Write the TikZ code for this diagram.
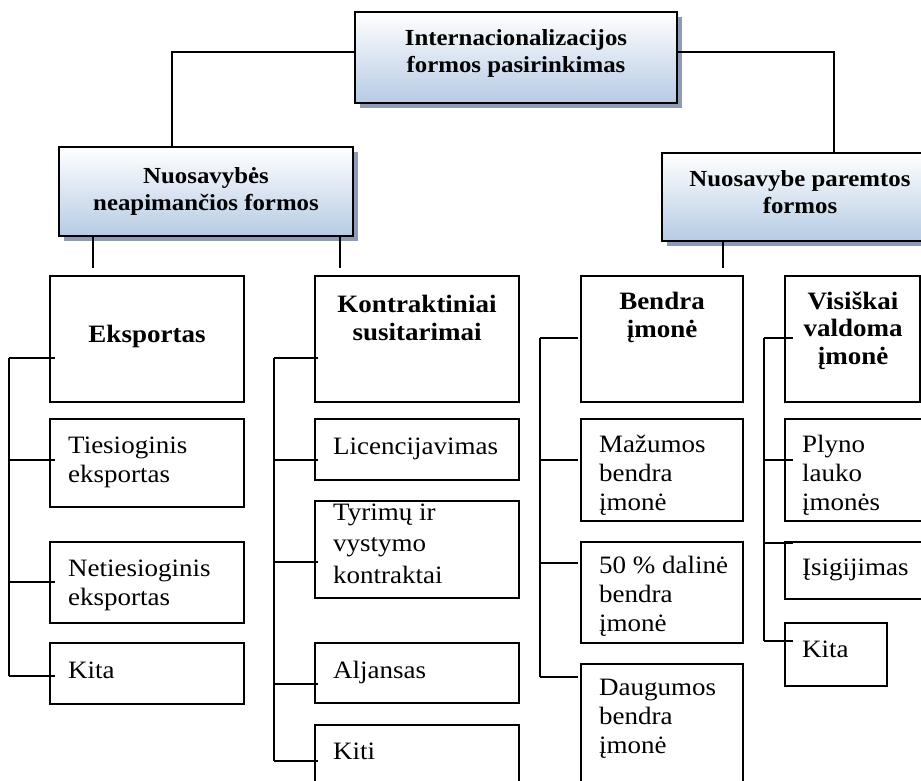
\documentclass[tikz,border=0pt]{standalone}
\usepackage{fontspec}
\setmainfont{Liberation Serif}[FakeStretch=1.08]
\usetikzlibrary{calc,shadows}
\definecolor{headtop}{RGB}{255,255,255}
\definecolor{headbot}{RGB}{182,203,228}
\definecolor{shadowc}{RGB}{140,156,182}
\tikzset{
  box/.style={draw, line width=1.2pt, rectangle, inner sep=0pt, outer sep=0pt, anchor=north west},
  headbox/.style={draw, line width=2pt, rectangle, inner sep=0pt, outer sep=0pt, anchor=north west,
    top color=headtop, bottom color=headbot,
    drop shadow={shadow xshift=5pt, shadow yshift=-5pt, fill=shadowc, opacity=1}},
  % multi-line texts are placed by the baseline of their last line
  headtxt/.style={font=\fontsize{23}{27}\selectfont\bfseries, align=center, anchor=base, inner sep=0pt},
  subhead/.style={font=\fontsize{25}{27.5}\selectfont\bfseries, align=center, anchor=base, inner sep=0pt},
  item/.style={font=\fontsize{25}{29}\selectfont, align=left, anchor=base west, inner sep=0pt},
  link/.style={line width=1.3pt},
}
% rectangle node from its top-left and bottom-right corners
\newcommand{\boxnode}[6]{%
  \node[#1, minimum width={(#5-#3)*1pt}, minimum height={(#6-#4)*1pt}] (#2) at (#3,#4) {};}
\begin{document}
\begin{tikzpicture}[x=1pt, y=-1pt]
\useasboundingbox (0,0) rectangle (921,780);

% header boxes
\boxnode{headbox}{top}{355}{12}{677}{103}
\boxnode{headbox}{lhead}{59}{147}{353}{236}
\boxnode{headbox}{rhead}{662}{153}{938}{241}
\node[headtxt] (toptx) at (516,72) {Internacionalizacijos\\formos pasirinkimas};
\node[headtxt] (lheadtx) at (206,210) {Nuosavybės\\neapimančios formos};
\node[headtxt] (rheadtx) at (800,213) {Nuosavybe paremtos\\formos};

% left group: export
\boxnode{box}{eks}{50}{276}{244}{402}
\boxnode{box}{ties}{50}{419}{244}{507}
\boxnode{box}{neties}{50}{542}{244}{623}
\boxnode{box}{kita}{50}{643}{244}{704}
\node[subhead] (ekstx) at (147,342) {Eksportas};
\node[item] (tiestx) at (68,482) {Tiesioginis\\eksportas};
\node[item] (netiestx) at (68,605) {Netiesioginis\\eksportas};
\node[item] (kitatx) at (68,678) {Kita};

% left group: contracts
\boxnode{box}{kon}{315}{276}{519}{402}
\boxnode{box}{lic}{315}{419}{519}{480}
\boxnode{box}{tyr}{315}{501}{519}{598}
\boxnode{box}{alj}{315}{643}{519}{703}
\boxnode{box}{kiti}{315}{725}{519}{800}
\node[subhead] (kontx) at (417,340) {Kontraktiniai\\susitarimai};
\node[item] (lictx) at (333,454) {Licencijavimas};
\node[item, font=\fontsize{25}{31.5}\selectfont] (tyrtx) at (333,583) {Tyrimų ir\\vystymo\\kontraktai};
\node[item] (aljtx) at (333,678) {Aljansas};
\node[item] (kititx) at (333,759) {Kiti};

% right group: joint venture
\boxnode{box}{ben}{581}{276}{743}{402}
\boxnode{box}{maz}{581}{419}{743}{521}
\boxnode{box}{pfifty}{581}{542}{743}{643}
\boxnode{box}{daug}{581}{664}{743}{800}
\node[subhead] (bentx) at (662,337) {Bendra\\įmonė};
\node[item] (maztx) at (599,510) {Mažumos\\bendra\\įmonė};
\node[item] (pfiftytx) at (599,631) {50 \% dalinė\\bendra\\įmonė};
\node[item] (daugtx) at (599,753) {Daugumos\\bendra\\įmonė};

% right group: wholly owned
\boxnode{box}{vis}{785}{276}{920}{402}
\boxnode{box}{ply}{785}{419}{930}{521}
\boxnode{box}{isig}{785}{542}{930}{599}
\boxnode{box}{kitar}{785}{623}{887}{686}
\node[subhead] (vistx) at (853,364) {Visiškai\\valdoma\\įmonė};
\node[item] (plytx) at (802,510) {Plyno\\lauko\\įmonės};
\node[item] (isigtx) at (802,575) {Įsigijimas};
\node[item] (kitartx) at (802,657) {Kita};

% top level connectors
\coordinate (tl) at (172,52);
\coordinate (tr) at (834,52);
\draw[link] (top.west |- tl) -| (tl |- lhead.north);
\draw[link] (top.east |- tr) -| (tr |- rhead.north);

% drops from the second level
\coordinate (d1) at (93,268);
\coordinate (d2) at (340,268);
\coordinate (d3) at (723,268);
\draw[link] (d1 |- lhead.south) -- (d1);
\draw[link] (d2 |- lhead.south) -- (d2);
\draw[link] (d3 |- rhead.south) -- (d3);

% bracket: export
\coordinate (la) at (9,358);
\coordinate (lb) at (9,460);
\coordinate (lc) at (9,582);
\coordinate (ld) at (9,676);
\draw[link] (la) -- (ld);
\draw[link] (la) -- ([xshift=5pt]eks.west |- la);
\draw[link] (lb) -- ([xshift=5pt]ties.west |- lb);
\draw[link] (lc) -- ([xshift=5pt]neties.west |- lc);
\draw[link] (ld) -- ([xshift=5pt]kita.west |- ld);

% bracket: contracts
\coordinate (ka) at (274,358);
\coordinate (kb) at (274,460);
\coordinate (kc) at (274,562);
\coordinate (kd) at (274,684);
\coordinate (ke) at (274,761);
\draw[link] (ka) -- (ke);
\draw[link] (ka) -- ([xshift=3pt]kon.west |- ka);
\draw[link] (kb) -- ([xshift=3pt]lic.west |- kb);
\draw[link] (kc) -- ([xshift=3pt]tyr.west |- kc);
\draw[link] (kd) -- ([xshift=3pt]alj.west |- kd);
\draw[link] (ke) -- ([xshift=3pt]kiti.west |- ke);

% bracket: joint venture
\coordinate (ba) at (540,338);
\coordinate (bb) at (540,460);
\coordinate (bc) at (540,563);
\coordinate (bd) at (540,677);
\draw[link] (ba) -- (bd);
\draw[link] (ba) -- ([xshift=-3pt]ben.west |- ba);
\draw[link] (bb) -- ([xshift=-3pt]maz.west |- bb);
\draw[link] (bc) -- ([xshift=-3pt]pfifty.west |- bc);
\draw[link] (bd) -- ([xshift=-3pt]daug.west |- bd);

% bracket: wholly owned
\coordinate (va) at (764,338);
\coordinate (vb) at (764,460);
\coordinate (vc) at (764,543);
\coordinate (vd) at (764,641);
\draw[link] (va) -- (vd);
\draw[link] (va) -- ([xshift=8pt]vis.west |- va);
\draw[link] (vb) -- ([xshift=8pt]ply.west |- vb);
\draw[link] (vc) -- ([xshift=8pt]isig.west |- vc);
\draw[link] (vd) -- ([xshift=8pt]kitar.west |- vd);
\end{tikzpicture}
\end{document}
